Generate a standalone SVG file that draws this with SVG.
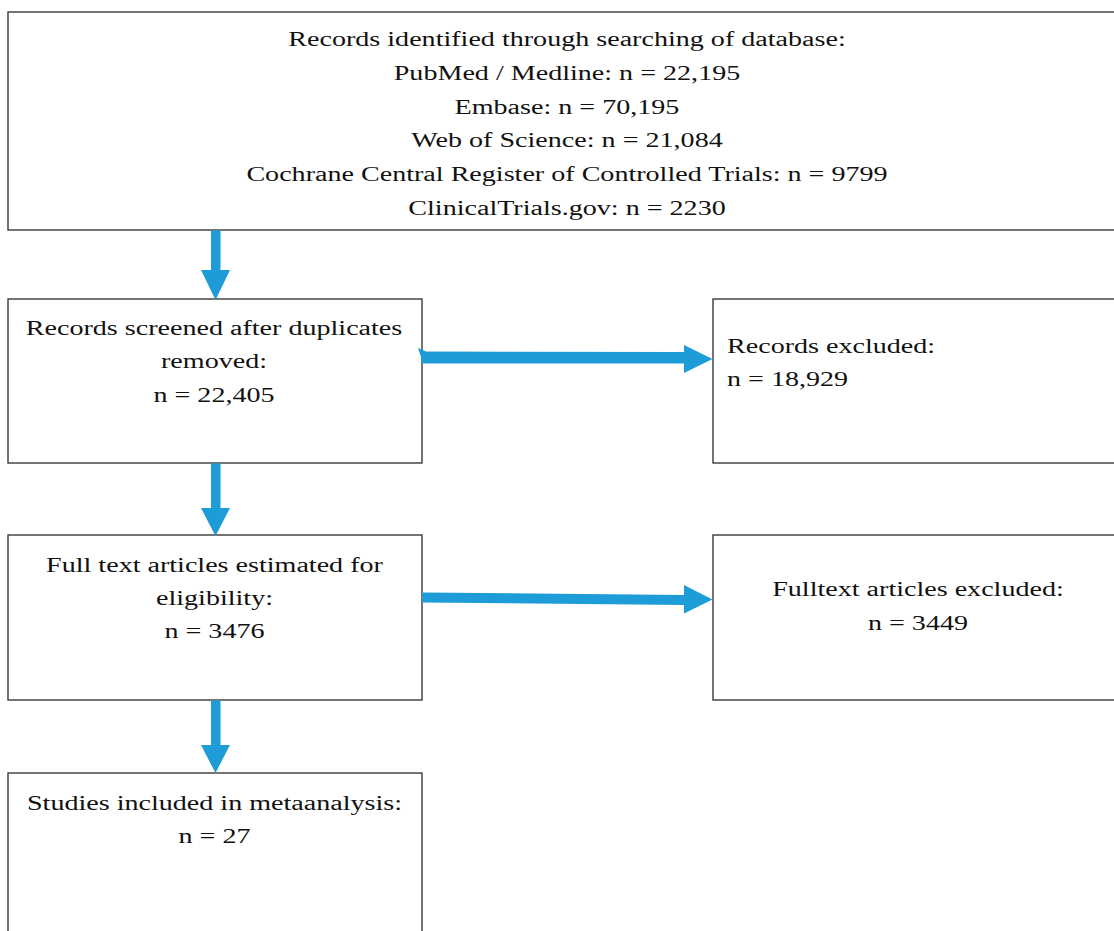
<svg xmlns="http://www.w3.org/2000/svg" width="1114" height="931" viewBox="0 0 1114 931">
<style>
.box{fill:#ffffff;stroke:#3a3a3a;stroke-width:1.4}
.t{font-family:"Liberation Serif","Times New Roman",serif;font-size:21.6px;fill:#111111}
.c{text-anchor:middle}
.arr{fill:#1e9cd8;stroke:none}
</style>
<rect x="0" y="0" width="1114" height="931" fill="#ffffff"/>
<g id="node-identified">
<rect class="box" x="8" y="12" width="1120" height="218"/>
<text class="t c" transform="translate(567,46) scale(1.3,1)">Records identified through searching of database:</text>
<text class="t c" transform="translate(567,80) scale(1.3,1)">PubMed / Medline: n = 22,195</text>
<text class="t c" transform="translate(567,113.5) scale(1.3,1)">Embase: n = 70,195</text>
<text class="t c" transform="translate(567,147) scale(1.3,1)">Web of Science: n = 21,084</text>
<text class="t c" transform="translate(567,181) scale(1.3,1)">Cochrane Central Register of Controlled Trials: n = 9799</text>
<text class="t c" transform="translate(567,214.5) scale(1.3,1)">ClinicalTrials.gov: n = 2230</text>
</g>
<g id="node-screened">
<rect class="box" x="8" y="299" width="414" height="164"/>
<text class="t c" transform="translate(214,335) scale(1.3,1)">Records screened after duplicates</text>
<text class="t c" transform="translate(214,368) scale(1.3,1)">removed:</text>
<text class="t c" transform="translate(214,401.5) scale(1.3,1)">n = 22,405</text>
</g>
<g id="node-excluded">
<rect class="box" x="713" y="299" width="420" height="164"/>
<text class="t" transform="translate(727,353) scale(1.3,1)">Records excluded:</text>
<text class="t" transform="translate(727,386) scale(1.3,1)">n = 18,929</text>
</g>
<g id="node-fulltext">
<rect class="box" x="8" y="535" width="414" height="165"/>
<text class="t c" transform="translate(214.5,572) scale(1.3,1)">Full text articles estimated for</text>
<text class="t c" transform="translate(214.5,605) scale(1.3,1)">eligibility:</text>
<text class="t c" transform="translate(214.5,638) scale(1.3,1)">n = 3476</text>
</g>
<g id="node-fulltext-excluded">
<rect class="box" x="713" y="535" width="420" height="165"/>
<text class="t c" transform="translate(918,596) scale(1.3,1)">Fulltext articles excluded:</text>
<text class="t c" transform="translate(918,630) scale(1.3,1)">n = 3449</text>
</g>
<g id="node-included">
<rect class="box" x="8" y="773" width="414" height="180"/>
<text class="t c" transform="translate(214.5,810) scale(1.3,1)">Studies included in metaanalysis:</text>
<text class="t c" transform="translate(214.5,843) scale(1.3,1)">n = 27</text>
</g>
<g id="connectors">
<polygon class="arr" points="211,230.5 220.5,230.5 220.5,270 230,270 215.5,300 201,270 211,270"/>
<polygon class="arr" points="211,463.5 220.5,463.5 220.5,508 230,508 215.5,536 201,508 211,508"/>
<polygon class="arr" points="211,700.5 220.5,700.5 220.5,745 230,745 215.5,773 201,745 211,745"/>
<polygon class="arr" points="418,348 426,351.5 684,352 684,345 712.5,359 684,373 684,363.5 422,363.5 421,357"/>
<polygon class="arr" points="422,592.5 684,595 684,585 712.5,599.5 684,613.5 684,605 422,602.5"/>
</g>
</svg>
